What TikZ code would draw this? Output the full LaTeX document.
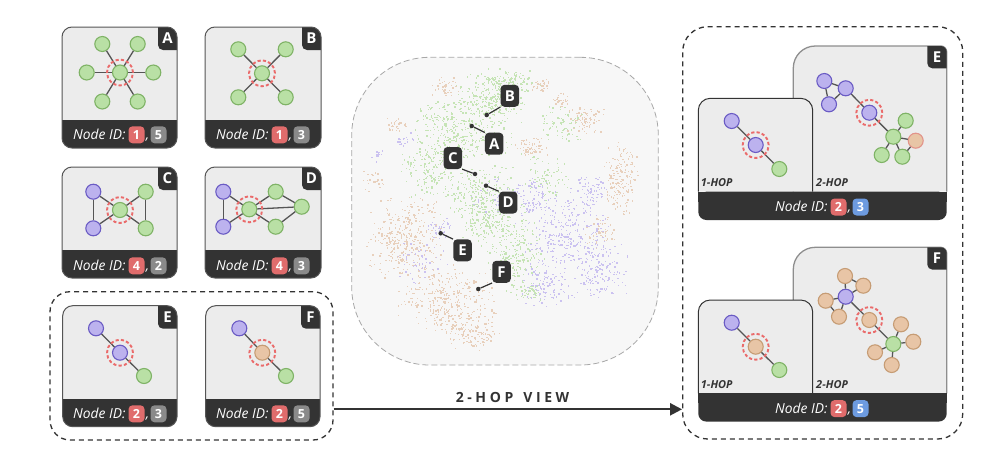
\documentclass[tikz,border=0pt]{standalone}
\usepackage{fontspec}
\setmainfont{Open Sans}
\usetikzlibrary{arrows.meta}

\definecolor{cardbg}{HTML}{ECECEC}
\definecolor{dark}{HTML}{333333}
\definecolor{cardline}{HTML}{555555}
\definecolor{bigline}{HTML}{8E8E8E}
\definecolor{ngreen}{HTML}{B9E0A5}
\definecolor{ngreenD}{HTML}{7FB366}
\definecolor{npurple}{HTML}{BCB2EE}
\definecolor{npurpleD}{HTML}{6A5BC4}
\definecolor{ntan}{HTML}{E8C5A6}
\definecolor{ntanD}{HTML}{C69C74}
\definecolor{ntanR}{HTML}{E2948A}
\definecolor{ringred}{HTML}{EA6B6B}
\definecolor{edgegrey}{HTML}{555555}
\definecolor{badgered}{HTML}{E06C6C}
\definecolor{badgegrey}{HTML}{8A8A8A}
\definecolor{badgeblue}{HTML}{6D9BE0}
\definecolor{sg}{HTML}{C6E4B6}
\definecolor{st}{HTML}{E8D0BC}
\definecolor{sp}{HTML}{CBC2F0}
\definecolor{scatbg}{HTML}{F7F7F7}
\definecolor{scatline}{HTML}{A8A8A8}

\newcommand\leftcard[6]{%
  \fill[cardbg, rounded corners=10pt] (#1,#2) rectangle (#3,#4);
  \begin{scope}
    \clip[rounded corners=10pt] (#1,#2) rectangle (#3,#4);
    \fill[dark] (#1,#4-28) rectangle (#3,#4);
    \fill[dark, rounded corners=5pt] (#3-19,#2-10) rectangle (#3+10,#2+23);
  \end{scope}
  \draw[cardline, line width=1pt, rounded corners=10pt] (#1,#2) rectangle (#3,#4);
  \node[cardletter] (#6) at (#3-9.5,#2+11.5) {#5};
}

\newcommand\idline[6]{%
  \node[idtext, anchor=base west] (#6t) at (#1,#2) {Node ID:};
  \node[badge, fill=badgered] (#6a) at (#1+63.5,#2-4.7) {#3};
  \node[idtext, anchor=base] (#6c) at (#1+74.5,#2) {,};
  \node[badge, fill=#4] (#6b) at (#1+85.5,#2-4.7) {#5};
}

\newcommand\rightpanel[5]{%
  \path[fill=cardbg, draw=bigline, line width=1.3pt] (793.3,#3) -- (793.3,#1+22) arc[start angle=180,end angle=90,radius=22pt] -- (940.7,#1) arc[start angle=90,end angle=0,radius=6pt] -- (946.7,#3);
  \begin{scope}
    \clip (793.3,#3) -- (793.3,#1+22) arc[start angle=180,end angle=90,radius=22pt] -- (940.7,#1) arc[start angle=90,end angle=0,radius=6pt] -- (946.7,#3) -- cycle;
    \fill[dark, rounded corners=5pt] (927.3,#1-10) rectangle (960,#1+22.3);
  \end{scope}
  \path[fill=cardbg, draw=dark, line width=1pt] (698.3,#3) -- (698.3,#2+12) arc[start angle=180,end angle=90,radius=12pt] -- (800.7,#2) arc[start angle=90,end angle=0,radius=12pt] -- (812.7,#3);
  \fill[dark, rounded corners=8pt] (698.3,#3) rectangle (946.7,#3+28.3);
  \fill[dark] (698.3,#3) rectangle (946.7,#3+10);
  \node[cardletter] (#5) at (937,#1+11.2) {#4};
}

\begin{document}
\begin{tikzpicture}[x=1pt,y=-1pt,
  gn/.style={circle, minimum size=15pt, inner sep=0pt, line width=1.1pt},
  gnode/.style={gn, fill=ngreen, draw=ngreenD},
  pnode/.style={gn, fill=npurple, draw=npurpleD},
  tnode/.style={gn, fill=ntan, draw=ntanD},
  ringnode/.style={circle, minimum size=26pt, inner sep=0pt, draw=ringred, dash pattern=on 3.2pt off 2.2pt, line width=1.9pt},
  edge/.style={draw=edgegrey, line width=1.3pt},
  cardletter/.style={text=white, font=\bfseries\fontsize{15}{15}\selectfont, inner sep=0pt},
  idtext/.style={text=white, font=\itshape\fontsize{13.8}{14}\selectfont, inner sep=0pt},
  badge/.style={rounded corners=4pt, minimum width=16pt, minimum height=17pt, inner sep=0pt, text=white, font=\bfseries\fontsize{12.5}{13}\selectfont},
  hoptext/.style={text=dark, font=\bfseries\itshape\fontsize{11}{11}\selectfont, inner sep=0pt},
  groupbox/.style={draw=dark, line width=1.3pt, dash pattern=on 5pt off 4pt, inner sep=0pt},
  scatlabel/.style={fill=dark, rounded corners=4pt, minimum width=18.5pt, minimum height=22pt, inner sep=0pt, text=white, font=\bfseries\fontsize{15}{15}\selectfont},
  scatdot/.style={circle, fill=dark, minimum size=4.5pt, inner sep=0pt},
  leader/.style={draw=dark, line width=1.2pt},
  arrowline/.style={draw=dark, line width=2.3pt, -{Triangle[length=12pt,width=12pt]}},
  viewtext/.style={text=dark, font=\bfseries\fontsize{14}{14}\selectfont, inner sep=0pt}
]
\useasboundingbox (0,0) rectangle (992,455);
\fill[white] (0,0) rectangle (992,455);

% ---------------- left cards ----------------
\leftcard{62}{27}{177}{148}{A}{LA}
\leftcard{205}{27}{321}{148}{B}{LB}
\leftcard{62}{167}{177}{278}{C}{LC}
\leftcard{205}{167}{321}{278}{D}{LD}
\leftcard{62.7}{305.7}{177}{426.7}{E}{LE}
\leftcard{205.7}{305.7}{320}{426.7}{F}{LF}

\idline{73}{139.5}{1}{badgegrey}{5}{idA}
\idline{216}{139.5}{1}{badgegrey}{3}{idB}
\idline{73}{270.5}{4}{badgegrey}{2}{idC}
\idline{216}{270.5}{4}{badgegrey}{3}{idD}
\idline{73}{418.5}{2}{badgegrey}{3}{idE}
\idline{216}{418.5}{2}{badgegrey}{5}{idF}

% A
\node[gnode] (aC) at (120,72.5) {};
\node[gnode] (a1) at (102.3,44) {};
\node[gnode] (a2) at (137.7,44) {};
\node[gnode] (a3) at (86.7,72.5) {};
\node[gnode] (a4) at (153.3,72.5) {};
\node[gnode] (a5) at (102.3,101.5) {};
\node[gnode] (a6) at (137.7,101.5) {};
\foreach \n in {a1,a2,a3,a4,a5,a6} \draw[edge] (aC) -- (\n);
\node[ringnode] (aR) at (aC) {};

% B
\node[gnode] (bC) at (262,73.3) {};
\node[gnode] (b1) at (238.3,49.3) {};
\node[gnode] (b2) at (285.7,49.3) {};
\node[gnode] (b3) at (238.3,97.3) {};
\node[gnode] (b4) at (285.7,97.3) {};
\foreach \n in {b1,b2,b3,b4} \draw[edge] (bC) -- (\n);
\node[ringnode] (bR) at (bC) {};

% C
\node[pnode] (c1) at (93.3,191.7) {};
\node[pnode] (c2) at (93.3,228.3) {};
\node[gnode] (cC) at (120,210) {};
\node[gnode] (c3) at (145.7,191.7) {};
\node[gnode] (c4) at (145.7,228.3) {};
\draw[edge] (c1) -- (c2);
\draw[edge] (c3) -- (c4);
\foreach \n in {c1,c2,c3,c4} \draw[edge] (cC) -- (\n);
\node[ringnode] (cR) at (cC) {};

% D
\node[pnode] (d1) at (223.3,191.7) {};
\node[pnode] (d2) at (223.3,226.7) {};
\node[gnode] (dC) at (249.3,209.3) {};
\node[gnode] (d3) at (275.7,191.7) {};
\node[gnode] (d4) at (301.7,206.7) {};
\node[gnode] (d5) at (275.7,226.7) {};
\draw[edge] (d1) -- (d2);
\draw[edge] (d3) -- (d4);
\draw[edge] (d5) -- (d4);
\foreach \n in {d1,d2,d3,d4,d5} \draw[edge] (dC) -- (\n);
\node[ringnode] (dR) at (dC) {};

% E (left)
\node[pnode] (e1) at (96,328.3) {};
\node[pnode] (eC) at (120,352.7) {};
\node[gnode] (e2) at (144,376) {};
\draw[edge] (e1) -- (eC);
\draw[edge] (eC) -- (e2);
\node[ringnode] (eR) at (eC) {};

% F (left)
\node[pnode] (f1) at (239.3,328.3) {};
\node[tnode] (fC) at (262.3,352.7) {};
\node[gnode] (f2) at (286,376) {};
\draw[edge] (f1) -- (fC);
\draw[edge] (fC) -- (f2);
\node[ringnode] (fR) at (fC) {};

% dashed group around E, F
\node[groupbox, rounded corners=20pt, minimum width=283pt, minimum height=148.3pt] (leftgroup) at (191.5,365.85) {};

% ---------------- scatter ----------------
\node[draw=scatline, fill=scatbg, line width=0.8pt, dash pattern=on 6pt off 3pt, rounded corners=78pt, minimum width=306.6pt, minimum height=307.7pt, inner sep=0pt] (scatter) at (505,211.15) {};

\pgfmathsetseed{4242}
\foreach \c/\cx/\cy/\sx/\sy/\n in {
  st/405/238/40/44/340, st/445/302/52/38/320, st/470/335/30/18/110,
  st/620/180/18/40/170, st/585/120/20/16/80, st/530/148/18/12/60,
  st/445/88/16/12/40, st/395/125/14/10/30, st/540/85/12/8/35,
  st/560/100/10/10/25, st/375/182/14/12/25, st/600/232/18/18/50,
  sg/490/100/42/28/300, sg/465/140/52/22/220, sg/430/170/32/30/170,
  sg/478/195/44/30/250, sg/495/225/42/26/200, sg/515/258/32/28/170,
  sg/525/292/20/12/60, sg/445/118/32/18/90, sg/560/125/24/22/70,
  sg/510/80/32/12/70, sg/545/178/26/25/80,
  sp/565/232/44/46/280, sp/600/272/30/34/150, sp/545/284/26/28/110,
  sp/530/200/26/25/90, sp/405/140/10/12/18, sp/378/157/8/8/12,
  sp/440/228/16/12/35, sp/420/262/30/26/50, sp/590/190/18/18/60,
  sp/500/200/32/25/40}
{
  \foreach \i in {1,...,\n} {
    \pgfmathsetmacro\px{\cx+\sx*(rand+rand)/2}
    \pgfmathsetmacro\py{\cy+\sy*(rand+rand)/2}
    \fill[\c] (\px,\py) rectangle ++(1.35pt,1.35pt);
  }
}

\node[scatlabel] (sB) at (509.8,95.8) {B};
\node[scatlabel] (sA) at (494.2,143.7) {A};
\node[scatlabel] (sC) at (452.8,158) {C};
\node[scatlabel] (sD) at (508.2,202.5) {D};
\node[scatlabel] (sE) at (462.5,250.3) {E};
\node[scatlabel] (sF) at (501.5,271.8) {F};
\node[scatdot] (pB) at (486.7,115) {};
\node[scatdot] (pA) at (471.7,126) {};
\node[scatdot] (pC) at (475,174) {};
\node[scatdot] (pD) at (486,185.7) {};
\node[scatdot] (pE) at (440.7,233.3) {};
\node[scatdot] (pF) at (478.3,289) {};
\draw[leader] (pB) -- (sB.south west);
\draw[leader] (pA) -- (sA.north west);
\draw[leader] (pC) -- (sC.south east);
\draw[leader] (pD) -- (sD.north west);
\draw[leader] (pE) -- (sE.north west);
\draw[leader] (pF) -- (sF.south west);

% ---------------- right group ----------------
\node[groupbox, rounded corners=25pt, minimum width=280pt, minimum height=412.3pt] (rightgroup) at (822.7,232.85) {};

\rightpanel{46}{98.3}{191.7}{E}{RE}
\rightpanel{247.3}{300}{393.3}{F}{RF}

\node[hoptext, anchor=base west] (reh1) at (700.7,186.7) {1-HOP};
\node[hoptext, anchor=base west] (reh2) at (816,186.7) {2-HOP};
\node[hoptext, anchor=base west] (rfh1) at (700.7,388) {1-HOP};
\node[hoptext, anchor=base west] (rfh2) at (816,388) {2-HOP};

\idline{775}{211.7}{2}{badgeblue}{3}{idRE}
\idline{775}{413.3}{2}{badgeblue}{5}{idRF}

% Right E 1-hop
\node[pnode] (re1) at (731.7,121) {};
\node[pnode] (reC) at (755.7,145) {};
\node[gnode] (re2) at (779.3,169) {};
\draw[edge] (re1) -- (reC);
\draw[edge] (reC) -- (re2);
\node[ringnode] (reR) at (reC) {};

% Right E 2-hop
\node[pnode] (rp1) at (824.3,81) {};
\node[pnode] (rp2) at (845.7,88.3) {};
\node[pnode] (rp3) at (829,104.3) {};
\node[pnode] (rpC) at (869.3,112.7) {};
\node[gnode] (rgH) at (893.3,136.7) {};
\node[gnode] (rg1) at (905.7,120.7) {};
\node[gnode] (rg2) at (881.7,155) {};
\node[gnode] (rg3) at (902.3,156.7) {};
\node[gn, fill=ntan, draw=ntanR] (rt1) at (915.7,140.7) {};
\draw[edge] (rp1) -- (rp2);
\draw[edge] (rp1) -- (rp3);
\draw[edge] (rp3) -- (rp2);
\draw[edge] (rp2) -- (rpC);
\draw[edge] (rpC) -- (rgH);
\draw[edge] (rgH) -- (rg1);
\draw[edge] (rgH) -- (rg2);
\draw[edge] (rgH) -- (rg3);
\draw[edge] (rgH) -- (rt1);
\draw[edge] (rg3) -- (rt1);
\node[ringnode] (rpR) at (rpC) {};

% Right F 1-hop
\node[pnode] (rf1) at (731.7,322.7) {};
\node[tnode] (rfC) at (755.7,346.7) {};
\node[gnode] (rf2) at (779.3,370) {};
\draw[edge] (rf1) -- (rfC);
\draw[edge] (rfC) -- (rf2);
\node[ringnode] (rfR) at (rfC) {};

% Right F 2-hop
\node[pnode] (qP) at (845.7,296.7) {};
\node[tnode] (qt1) at (845,276) {};
\node[tnode] (qt2) at (863.3,285.7) {};
\node[tnode] (qt3) at (825.7,300.7) {};
\node[tnode] (qt4) at (839,316.7) {};
\node[tnode] (qC) at (869.3,320) {};
\node[gnode] (qG) at (893.3,344) {};
\node[tnode] (qu1) at (901,324.3) {};
\node[tnode] (qu2) at (913.3,341.7) {};
\node[tnode] (qu3) at (875,352.3) {};
\node[tnode] (qu4) at (891.7,365) {};
\foreach \n in {qt1,qt2,qt3,qt4} \draw[edge] (qP) -- (\n);
\draw[edge] (qt1) -- (qt2);
\draw[edge] (qt3) -- (qt4);
\draw[edge] (qP) -- (qC);
\draw[edge] (qC) -- (qG);
\foreach \n in {qu1,qu2,qu3,qu4} \draw[edge] (qG) -- (\n);
\node[ringnode] (qR) at (qC) {};

% ---------------- arrow ----------------
\coordinate (arrowrow) at (0,409.3);
\draw[arrowline] (leftgroup.east |- arrowrow) -- (rightgroup.west |- arrowrow);
\node[viewtext, anchor=base] (viewlabel) at (512.5,402.7) {2\kern3.6pt-\kern3.6pt H\kern3.6pt O\kern3.6pt P\kern10pt V\kern3.6pt I\kern3.6pt E\kern3.6pt W};

\end{tikzpicture}
\end{document}
